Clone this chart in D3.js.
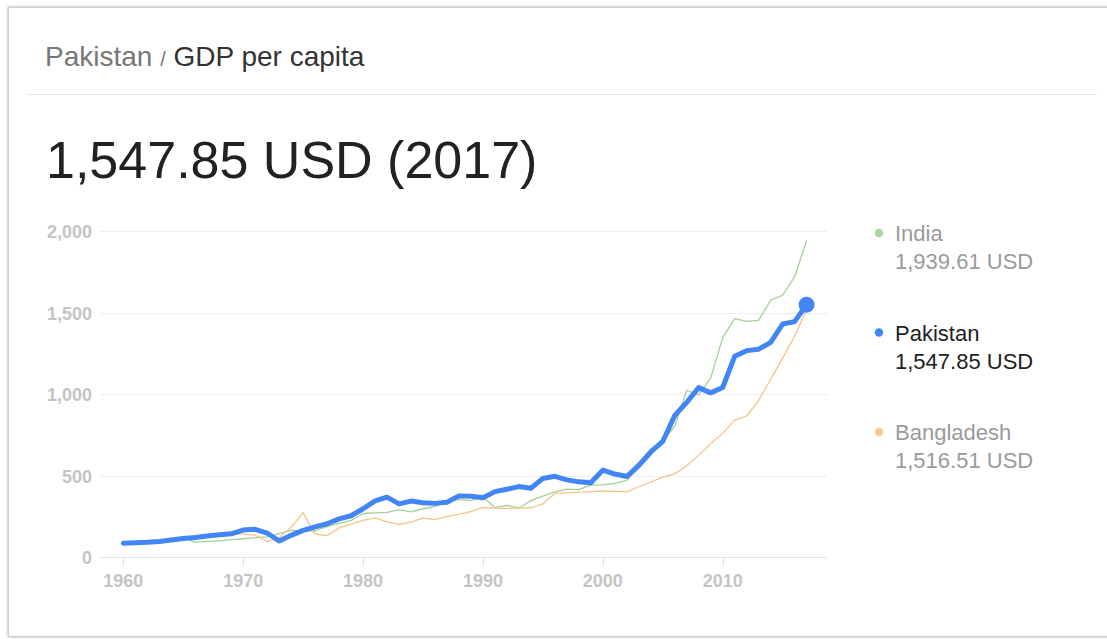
<!DOCTYPE html>
<html>
<head>
<meta charset="utf-8">
<script src="https://cdn.jsdelivr.net/npm/d3@7"></script>
<style>
  html, body { margin: 0; padding: 0; background: #fff; }
  svg { display: block; font-family: Arial, "Liberation Sans", sans-serif; }
</style>
</head>
<body>
<svg id="chart" width="1107" height="639"></svg>
<script>
(function(d3) {
  // GDP per capita, current USD, 1960-2017
  var firstYear = 1960;
  var lastYear = 2017;
  var years = d3.range(firstYear, lastYear + 1);

  var pakistan = [
    85, 88, 90, 95, 104, 113, 120, 129, 136, 142,
    165, 170, 147, 98, 133, 163, 185, 204, 234, 253,
    296, 344, 367, 326, 343, 333, 329, 336, 375, 373,
    364, 401, 416, 432, 422, 482, 495, 473, 461, 455,
    533, 509, 494, 562, 645, 709, 868, 949, 1039, 1007,
    1040, 1231, 1266, 1275, 1317, 1429, 1444, 1547.85
  ];
  var india = [
    82, 85, 90, 101, 116, 119, 90, 96, 99, 107,
    112, 119, 123, 144, 164, 158, 161, 186, 206, 224,
    267, 271, 274, 291, 277, 296, 311, 340, 354, 346,
    368, 303, 317, 301, 346, 374, 400, 416, 413, 441,
    443, 452, 470, 544, 624, 711, 802, 1023, 994, 1097,
    1346, 1462, 1446, 1452, 1576, 1606, 1718, 1939.61
  ];
  var bangladesh = [
    89, 94, 100, 98, 106, 111, 116, 129, 127, 140,
    140, 134, 95, 119, 182, 272, 140, 131, 178, 201,
    225, 240, 215, 200, 214, 239, 230, 249, 261, 278,
    305, 300, 298, 300, 302, 326, 390, 394, 398, 401,
    405, 403, 400, 431, 460, 490, 510, 560, 625, 695,
    760, 840, 865, 960, 1090, 1220, 1355, 1516.51
  ];

  var yTicks = [0, 500, 1000, 1500, 2000];
  var xTicks = [1960, 1970, 1980, 1990, 2000, 2010];

  var series = [
    {name: 'India', values: india, color: '#a3d096', dot: '#a8d5a0', text: '#9a9a9a', width: 1.3},
    {name: 'Bangladesh', values: bangladesh, color: '#f7c387', dot: '#f9c98a', text: '#9a9a9a', width: 1.3},
    {name: 'Pakistan', values: pakistan, color: '#4285f4', dot: '#4285f4', text: '#222', width: 5}
  ];
  var legendOrder = ['India', 'Pakistan', 'Bangladesh'];

  var svg = d3.select('#chart');
  var fmt = d3.format(',.2f');
  var fmtTick = d3.format(',');

  // card
  var defs = svg.append('defs');
  var shadow = defs.append('filter').attr('id', 'shadow')
    .attr('x', '-5%').attr('y', '-5%').attr('width', '110%').attr('height', '110%');
  shadow.append('feDropShadow').attr('dx', 0).attr('dy', 0)
    .attr('stdDeviation', 1.5).attr('flood-color', '#000').attr('flood-opacity', 0.35);

  svg.append('rect')
    .attr('x', 8.5).attr('y', 7.5)
    .attr('width', 1120).attr('height', 629)
    .attr('fill', '#fff')
    .attr('stroke', '#cfcfcf')
    .attr('filter', 'url(#shadow)');

  // header
  var title = svg.append('text')
    .attr('x', 45).attr('y', 66)
    .attr('font-size', 28);
  title.append('tspan').attr('fill', '#777').text('Pakistan ');
  title.append('tspan').attr('fill', '#777').attr('font-size', 20).text('/');
  title.append('tspan').attr('fill', '#333').text(' GDP per capita');

  svg.append('line')
    .attr('x1', 27).attr('x2', 1097)
    .attr('y1', 94.5).attr('y2', 94.5)
    .attr('stroke', '#e6e6e6');

  svg.append('text')
    .attr('x', 46).attr('y', 178)
    .attr('font-size', 52)
    .attr('fill', '#222')
    .text(fmt(pakistan[pakistan.length - 1]) + ' USD (' + lastYear + ')');

  // scales
  var x = d3.scaleLinear().domain([firstYear, lastYear]).range([123.3, 806.6]);
  var y = d3.scaleLinear().domain([0, 2000]).range([557, 231]);

  var plot = svg.append('g');

  plot.append('g')
    .selectAll('line')
    .data(yTicks)
    .join('line')
    .attr('x1', 100).attr('x2', 827)
    .attr('y1', function(d) { return Math.round(y(d)) + 0.5; })
    .attr('y2', function(d) { return Math.round(y(d)) + 0.5; })
    .attr('stroke', function(d) { return d === 0 ? '#e4e4e4' : '#efefef'; });

  plot.append('g')
    .selectAll('text')
    .data(yTicks)
    .join('text')
    .attr('x', 92)
    .attr('y', function(d) { return y(d) + 7; })
    .attr('text-anchor', 'end')
    .attr('font-size', 18)
    .attr('font-weight', 'bold')
    .attr('fill', '#c4c4c4')
    .text(fmtTick);

  var xAxis = plot.append('g');
  xAxis.selectAll('line')
    .data(xTicks)
    .join('line')
    .attr('x1', function(d) { return Math.round(x(d)) + 0.5; })
    .attr('x2', function(d) { return Math.round(x(d)) + 0.5; })
    .attr('y1', 557).attr('y2', 566)
    .attr('stroke', '#e0e0e0');
  xAxis.selectAll('text')
    .data(xTicks)
    .join('text')
    .attr('x', x)
    .attr('y', 587)
    .attr('text-anchor', 'middle')
    .attr('font-size', 18)
    .attr('font-weight', 'bold')
    .attr('fill', '#c4c4c4')
    .text(String);

  // lines
  var line = d3.line()
    .x(function(d, i) { return x(years[i]); })
    .y(function(d) { return y(d); });

  plot.append('g')
    .selectAll('path')
    .data(series)
    .join('path')
    .attr('d', function(s) { return line(s.values); })
    .attr('fill', 'none')
    .attr('stroke', function(s) { return s.color; })
    .attr('stroke-width', function(s) { return s.width; })
    .attr('stroke-linejoin', 'round')
    .attr('stroke-linecap', 'round');

  plot.append('circle')
    .attr('cx', x(lastYear))
    .attr('cy', y(pakistan[pakistan.length - 1]))
    .attr('r', 8)
    .attr('fill', '#4285f4');

  // legend
  var legend = svg.append('g')
    .selectAll('g')
    .data(legendOrder.map(function(n) { return series.find(function(s) { return s.name === n; }); }))
    .join('g')
    .attr('transform', function(d, i) { return 'translate(0,' + (241 + i * 99.5) + ')'; });

  legend.append('circle')
    .attr('cx', 879).attr('cy', -8).attr('r', 4.2)
    .attr('fill', function(d) { return d.dot; });
  legend.append('text')
    .attr('x', 895).attr('y', 0)
    .attr('font-size', 22)
    .attr('fill', function(d) { return d.text; })
    .text(function(d) { return d.name; });
  legend.append('text')
    .attr('x', 895).attr('y', 28)
    .attr('font-size', 22)
    .attr('fill', function(d) { return d.text; })
    .text(function(d) { return fmt(d.values[d.values.length - 1]) + ' USD'; });

})(d3);
</script>
</body>
</html>
